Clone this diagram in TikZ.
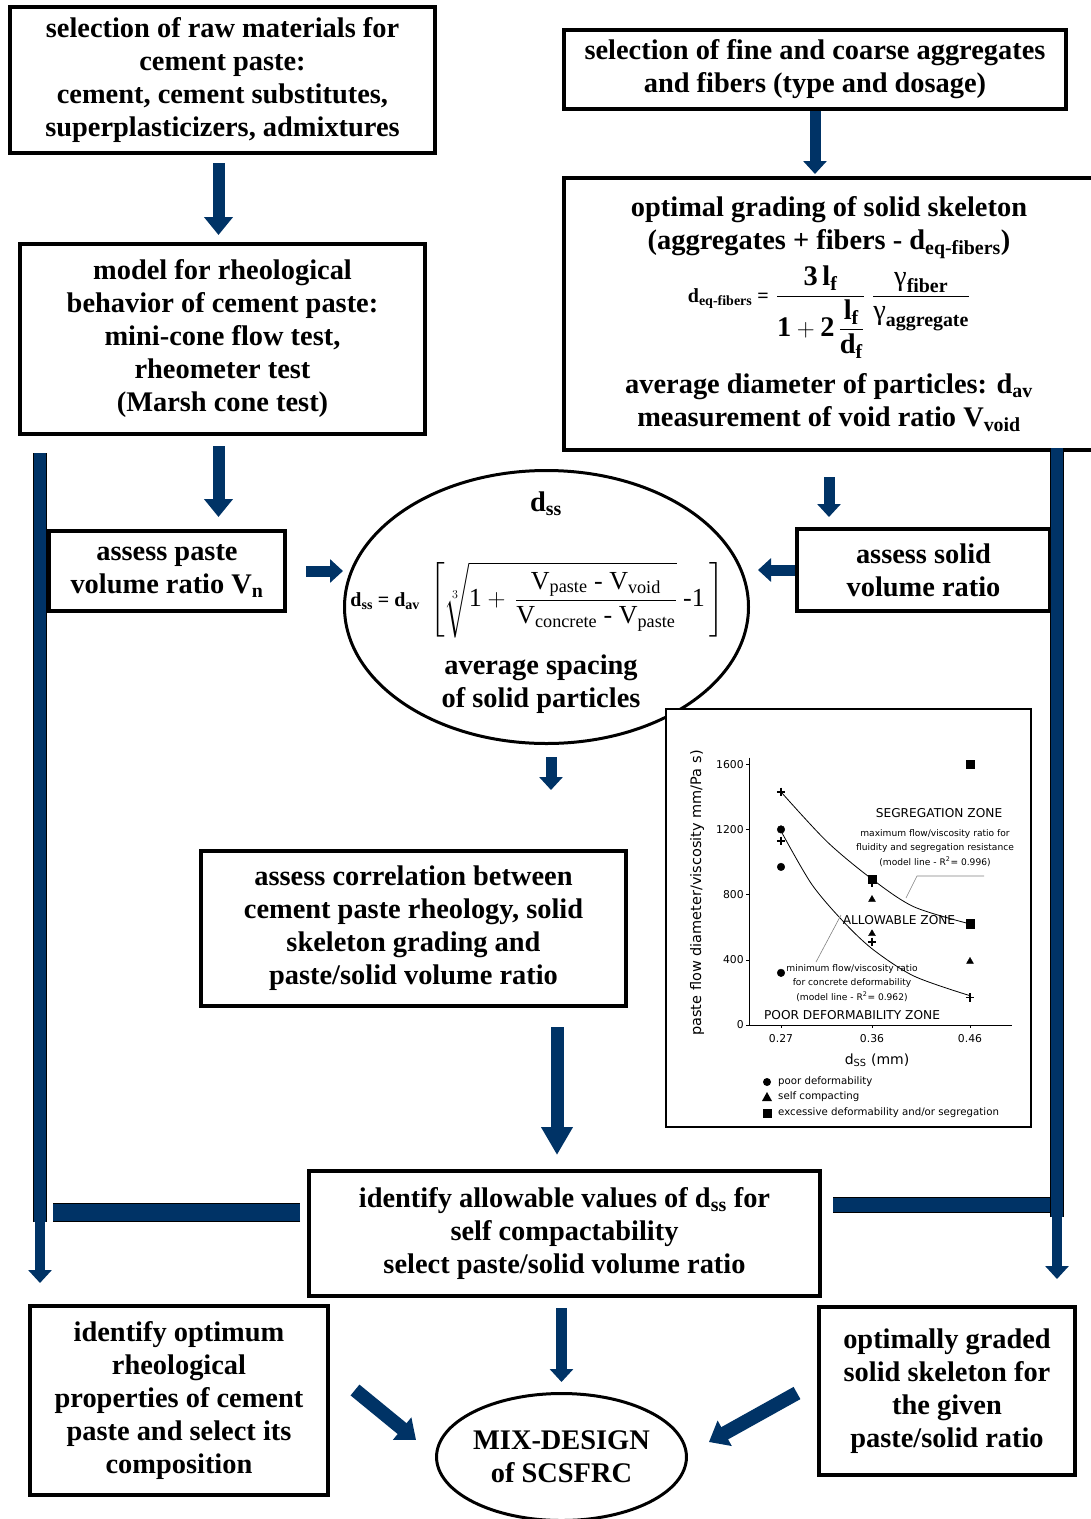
\documentclass[tikz,border=0pt]{standalone}
\usepackage{amsmath}
\usepackage{fontspec}
\setmainfont{Liberation Serif}
\newfontfamily\graphfont{DejaVu Sans}
\usetikzlibrary{arrows.meta,shapes.geometric,plotmarks}
\definecolor{navy}{RGB}{0,51,102}

\begin{document}
\begin{tikzpicture}[x=1pt,y=-1pt,
    box/.style={draw,line width=4pt,fill=white,align=center,inner sep=2pt,font=\fontsize{28.4}{33}\selectfont\bfseries},
    oval/.style={ellipse,draw,line width=3pt,fill=white,align=center,inner sep=0pt,font=\fontsize{28.4}{33}\selectfont\bfseries},
    lab/.style={align=center,inner sep=1pt,font=\fontsize{28.4}{33}\selectfont\bfseries},
    flow/.style={draw=navy,line width=12pt,-{Triangle[width=28pt,length=18pt]}},
    flowsmall/.style={draw=navy,line width=11pt,-{Triangle[width=23pt,length=13pt]}},
    flowbig/.style={draw=navy,line width=13pt,-{Triangle[width=30pt,length=28pt]}},
    vbar/.style={draw=black,line width=.8pt,double=navy,double distance=12.4pt},
    gtitle/.style={inner sep=0pt,font=\graphfont\fontsize{12.2}{14}\selectfont},
    gnote/.style={align=center,inner sep=0pt,font=\graphfont\fontsize{9.1}{14.5}\selectfont},
    gleg/.style={anchor=west,inner sep=0pt,font=\graphfont\fontsize{10.2}{12}\selectfont},
    gtick/.style={inner sep=0pt,font=\graphfont\fontsize{10.8}{12}\selectfont}]
  \useasboundingbox (0,0) rectangle (1091,1519);

  % boxes of the flow chart
  \node[box,minimum width=425pt,minimum height=146pt] (A) at (222.5,80) {selection of raw materials for\\cement paste:\\cement, cement substitutes,\\superplasticizers, admixtures};
  \node[box,minimum width=502pt,minimum height=79pt] (B) at (815,69.5) {selection of fine and coarse aggregates\\and fibers (type and dosage)};
  \node[box,minimum width=405pt,minimum height=190pt] (C) at (222.5,339) {model for rheological\\behavior of cement paste:\\mini-cone flow test,\\rheometer test\\(Marsh cone test)};
  \node[box,minimum width=530pt,minimum height=272pt] (D) at (829,314) {optimal grading of solid skeleton\\(aggregates + fibers - d\textsubscript{eq-fibers})\\[6pt]
    $\text{\fontsize{20}{20}\selectfont d\textsubscript{eq-fibers} =}\ \dfrac{\text{3\,l}_{\text{f}}}{\text{1}+\text{2}\,\dfrac{\text{l}_{\text{f}}}{\text{d}_{\text{f}}}}\ \dfrac{\text{\mdseries γ}_{\text{fiber}}}{\text{\mdseries γ}_{\text{aggregate}}}$\\[14pt]
    average diameter of particles: d\textsubscript{av}\\measurement of void ratio V\textsubscript{void}};
  \node[box,minimum width=236pt,minimum height=80pt] (E) at (167,571) {assess paste\\volume ratio V\textsubscript{n}};
  \node[box,minimum width=253pt,minimum height=82pt] (G) at (923.5,570) {assess solid\\volume ratio};
  \node[oval,minimum width=404pt,minimum height=273pt] (F) at (546.5,607) {};
  \node[lab] (Fhead) at (546,504) {d\textsubscript{ss}};
  \node[lab,font=\fontsize{26}{30}\selectfont\mdseries] (Fform) at (537,600) {$\text{\bfseries\fontsize{20}{20}\selectfont d\textsubscript{ss} = d\textsubscript{av}}\ \left[\sqrt[3]{\text{1}+\,\dfrac{\text{V}_{\text{paste}}\ \text{-}\ \text{V}_{\text{void}}}{\text{V}_{\text{concrete}}\ \text{-}\ \text{V}_{\text{paste}}}}\ \text{-1}\,\right]$};
  \node[lab] (Ftext) at (541,684) {average spacing\\of solid particles};
  \node[box,minimum width=425pt,minimum height=155pt] (I) at (413.5,928.5) {assess correlation between\\cement paste rheology, solid\\skeleton grading and\\paste/solid volume ratio};
  \node[box,minimum width=511pt,minimum height=125pt] (J) at (564.5,1233.5) {identify allowable values of d\textsubscript{ss} for\\self compactability\\select paste/solid volume ratio};
  \node[box,minimum width=298pt,minimum height=189pt] (K) at (179,1400.5) {identify optimum\\rheological\\properties of cement\\paste and select its\\composition};
  \node[box,minimum width=256pt,minimum height=168pt] (M) at (947,1391) {optimally graded\\solid skeleton for\\the given\\paste/solid ratio};
  \node[oval,minimum width=234pt,minimum height=127pt] (L) at (561.5,1457) {MIX-DESIGN\\of SCSFRC};

  % inset graph
  \node[draw,line width=2pt,fill=white,minimum width=365pt,minimum height=418pt] (H) at (848.5,918) {};
  \begin{scope}[shift={(749,1025)},x=1pt,y=.163pt]
    \draw[line width=.8pt] (0,1640) -- (0,0) -- (263,0);
    \foreach \v in {0,400,800,1200,1600}{
      \draw[line width=.6pt] (0,\v) -- (-3,\v) node[gtick,left=2pt] {\v};
    }
    \foreach \px/\lab in {32/0.27,123/0.36,221/0.46}{
      \draw[line width=.6pt] (\px,0) -- (\px,-18) node[gtick,below=6pt] {\lab};
    }
    \draw[line width=.8pt] plot[smooth] coordinates {(32,1430) (78,1125) (123,895) (165,725) (221,620)};
    \draw[line width=.8pt] plot[smooth] coordinates {(32,1190) (62,870) (92,650) (123,468) (165,300) (221,180)};
    \draw plot[only marks,mark=*,mark size=3.8pt] coordinates {(32,1200) (32,970) (32,320)};
    \draw plot[only marks,mark=triangle*,mark size=4pt] coordinates {(123,770) (123,560) (221,390)};
    \draw plot[only marks,mark=square*,mark size=4.3pt] coordinates {(221,1600) (123,895) (221,620)};
    \draw[line width=1.4pt] plot[only marks,mark=+,mark size=4.2pt] coordinates {(32,1430) (32,1130) (123,510) (221,170) (123,870)};
  \end{scope}
  \node[gtitle] (segz) at (939,813) {SEGREGATION ZONE};
  \node[gnote] (maxnote) at (935,848) {maximum flow/viscosity ratio for\\fluidity and segregation resistance\\(model line - R\textsuperscript{2}= 0.996)};
  \node[gtitle] (allz) at (899,920) {ALLOWABLE ZONE};
  \node[gnote] (minnote) at (852,983) {minimum flow/viscosity ratio\\for concrete deformability\\(model line - R\textsuperscript{2}= 0.962)};
  \node[gtitle] (poorz) at (852,1015) {POOR DEFORMABILITY ZONE};
  \draw[gray,line width=.6pt] (984,876) -- (917,876) -- (906,898);
  \draw[gray,line width=.6pt] (841,915) -- (816,962);
  \node[gtitle,font=\graphfont\fontsize{14}{16}\selectfont] (xtitle) at (877,1060) {d\textsubscript{SS} (mm)};
  \node[gtitle,font=\graphfont\fontsize{14.5}{16}\selectfont,rotate=90] (ytitle) at (697,893) {paste flow diameter/viscosity mm/Pa s)};
  \fill (767,1082) circle (4pt);
  \fill (762,1101) -- (772,1101) -- (767,1092) -- cycle;
  \fill (762.5,1108.5) rectangle (771.5,1117.5);
  \node[gleg] (leg1) at (778,1082) {poor deformability};
  \node[gleg] (leg2) at (778,1097) {self compacting};
  \node[gleg] (leg3) at (778,1113) {excessive deformability and/or segregation};

  % side bars
  \coordinate (ltop) at (40,453);
  \coordinate (lbot) at (40,1222);
  \coordinate (rtop) at (1057,448);
  \coordinate (rbot) at (1057,1217);
  \draw[vbar] (ltop) -- (lbot);
  \draw[vbar] (rtop) -- (rbot);
  \draw[vbar,double distance=17pt,shorten <=7pt,shorten >=13pt] ([yshift=21pt]J.west) -- ([yshift=21pt]J.west -| lbot);
  \draw[vbar,double distance=14pt,shorten <=11pt,shorten >=7pt] ([yshift=28.5pt]J.east) -- ([yshift=28.5pt]J.east -| rbot);
  \draw[flowsmall,line width=10pt,shorten >=21pt] (lbot) -- (lbot |- K.north);
  \draw[flowsmall,line width=10pt,shorten >=26pt] (rbot) -- (rbot |- M.north);

  % arrows
  \draw[flow,shorten <=8pt,shorten >=7pt] ([xshift=-4pt]A.south) -- ([xshift=-4pt]C.north);
  \draw[flowsmall,shorten >=2pt] (B.south) -- (B.south |- D.north);
  \draw[flow,shorten <=10pt,shorten >=12pt] ([xshift=-4pt]C.south) -- ([xshift=-4pt]C.south |- E.north);
  \draw[flowsmall,shorten <=25pt,shorten >=10pt] (D.south) -- (D.south |- G.north);
  \draw[flowsmall,shorten <=19pt] (E.east) -- (E.east -| F.west);
  \draw[flowsmall,shorten >=8pt] (G.west) -- (G.west -| F.east);
  \draw[flowsmall,shorten <=12pt,shorten >=59pt] ([xshift=4.5pt]F.south) -- ([xshift=4.5pt]F.south |- I.north);
  \draw[flowbig,shorten <=19pt,shorten >=14pt] ([xshift=-7.5pt]J.north |- I.south) -- ([xshift=-7.5pt]J.north);
  \draw[flowsmall,shorten <=10pt,shorten >=10pt] (J.south -| L.north) -- (L.north);
  \draw[flow,line width=14pt] ([xshift=25pt,yshift=10.5pt]K.east) -- ([xshift=-19pt,yshift=17pt]L.west);
  \draw[flow,line width=14pt] ([xshift=-20pt,yshift=-2pt]M.west) -- ([xshift=21pt,yshift=15pt]L.east);
\end{tikzpicture}
\end{document}
